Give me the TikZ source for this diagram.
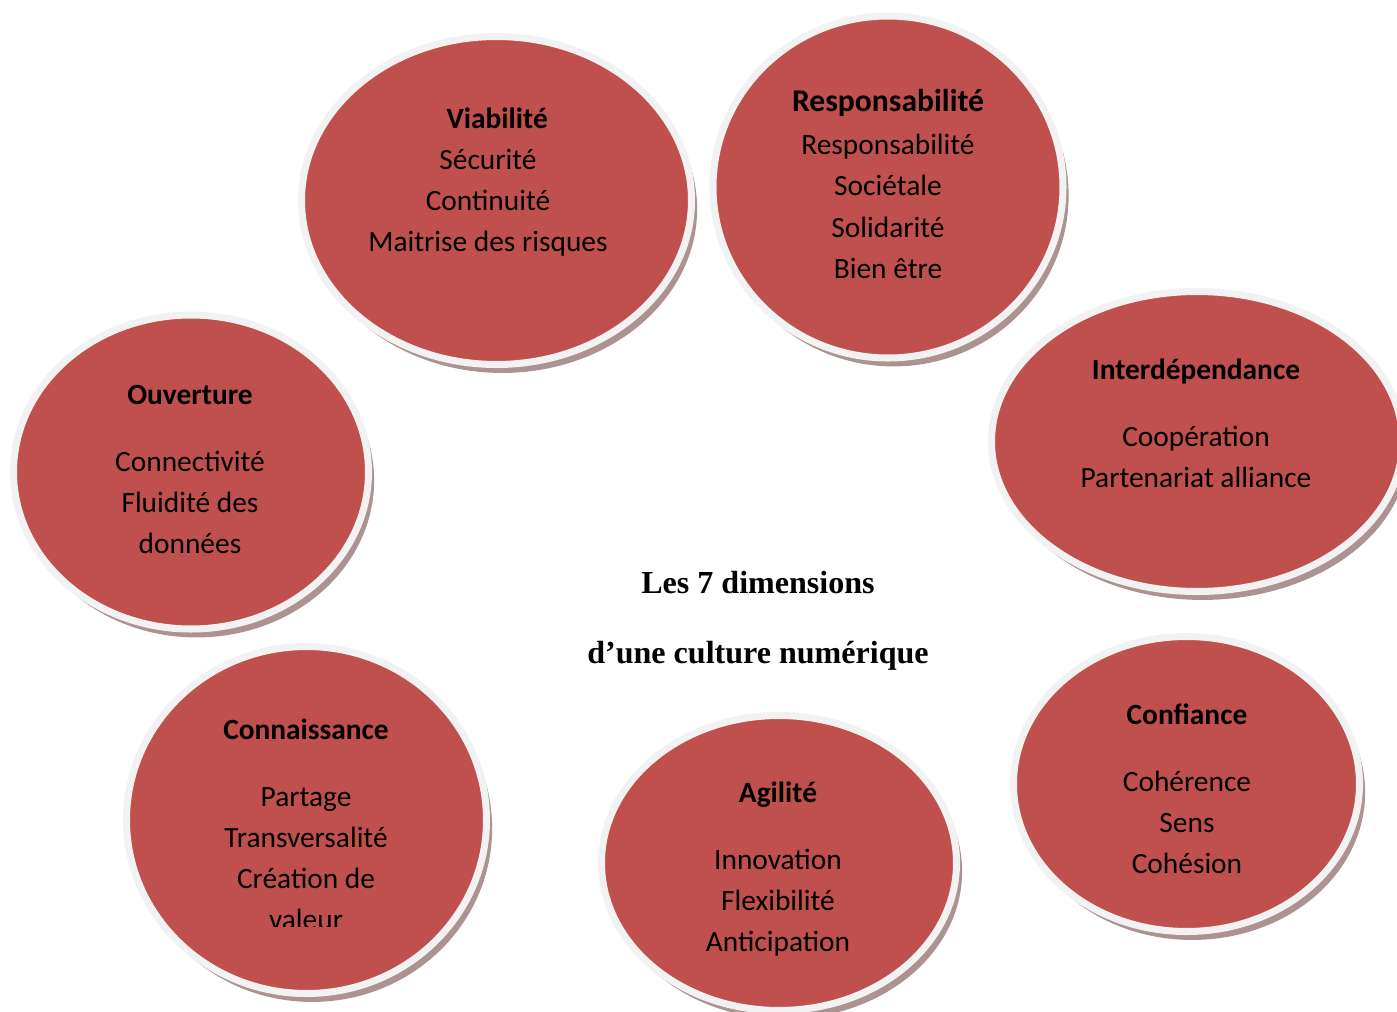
\documentclass[tikz,border=0pt]{standalone}
\usepackage{fontspec}
\setmainfont{Carlito}
\newfontfamily\titre{Liberation Serif}
\usetikzlibrary{shapes.geometric,shadows}
\definecolor{rouge}{HTML}{C0504D}
\definecolor{bord}{HTML}{F2F2F2}
\definecolor{ombre}{HTML}{A48686}

\begin{document}
\begin{tikzpicture}[x=0.025cm,y=-0.025cm,
  bulle/.style 2 args={ellipse,fill=rouge,draw=bord,line width=5pt,inner sep=0pt,
    minimum width=#1*0.025cm,minimum height=#2*0.025cm,
    drop shadow={shadow xshift=4pt,shadow yshift=-6pt,fill=ombre,opacity=.9}},
  texte/.style={anchor=north,align=center,inner sep=0pt,font=\fontsize{20.9}{29.2}\selectfont}]
  \useasboundingbox (0,0) rectangle (1397,1012);
  % les sept bulles
  \node[bulle={390}{328}] (viab) at (496.5,200.5) {};
  \node[bulle={350}{342}] (resp) at (888,187) {};
  \node[bulle={411}{300}] (inter) at (1197,441.5) {};
  \node[bulle={355}{314}] (ouv) at (191,472) {};
  \node[bulle={360}{347}] (conn) at (306.5,820) {};
  \node[bulle={355}{295}] (agil) at (779,863) {};
  \node[bulle={346}{295}] (conf) at (1186.5,784) {};
  % textes des bulles
  \node[texte] (t-viab) at (488,99) {\strut\hspace*{13pt}\textbf{Viabilité}\\Sécurité\\Continuité\\Maitrise des risques};
  \node[texte] (t-resp) at (888,82) {\strut{\fontsize{22.5}{29.2}\selectfont\textbf{Responsabilité}}\\[2pt]Responsabilité\\Sociétale\\Solidarité\\Bien être};
  \node[texte] (t-inter) at (1196,350) {\strut\textbf{Interdépendance}\\[19pt]Coopération\\Partenariat alliance};
  \node[texte] (t-ouv) at (190,375) {\strut\textbf{Ouverture}\\[19pt]Connectivité\\Fluidité des\\données};
  \begin{scope}
    \clip (0,0) rectangle (1397,926);
    \node[texte] (t-conn) at (306,710) {\strut\textbf{Connaissance}\\[19pt]Partage\\Transversalité\\Création de\\valeur};
  \end{scope}
  \node[texte] (t-agil) at (778,773) {\strut\textbf{Agilité}\\[19pt]Innovation\\Flexibilité\\Anticipation};
  \node[texte] (t-conf) at (1187,695) {\strut\textbf{Confiance}\\[19pt]Cohérence\\Sens\\Cohésion};
  % titre central
  \node[anchor=north,align=center,inner sep=0pt,font=\titre\bfseries\fontsize{22.8}{49.8}\selectfont] (titre) at (758,544) {\strut Les 7 dimensions\\d’une culture numérique};
\end{tikzpicture}
\end{document}
